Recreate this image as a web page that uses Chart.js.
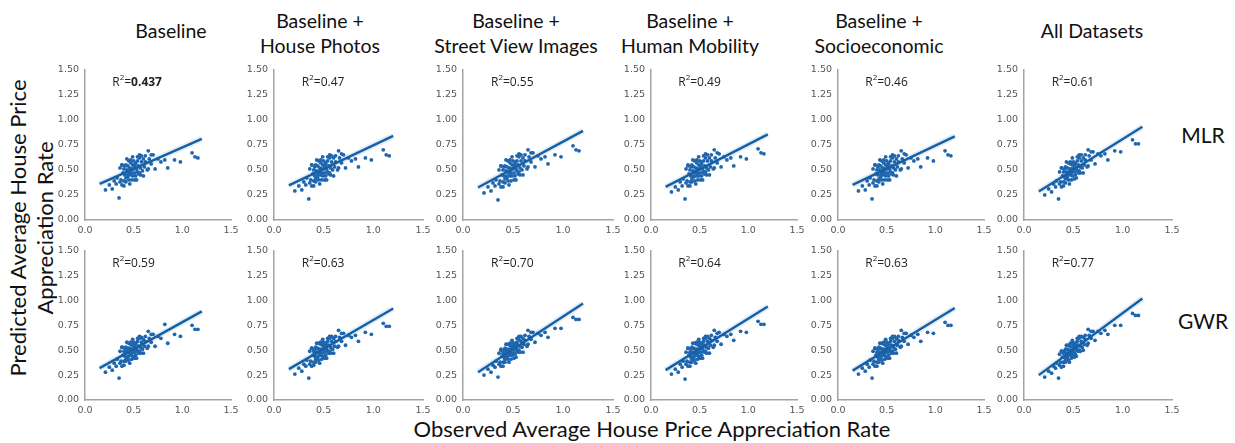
<!DOCTYPE html>
<html>
<head>
<meta charset="utf-8">
<script src="https://cdn.jsdelivr.net/npm/chart.js@4.4.1/dist/chart.umd.min.js"></script>
<style>
    body { margin: 0; width: 1235px; height: 443px; background: #fff; position: relative; overflow: hidden; font-family: Lato, "Noto Sans", sans-serif; }
    canvas.panel { position: absolute; }
    .txt { position: absolute; color: #111; white-space: nowrap; text-align: center; transform: translate(-50%, -50%); }
    .title { font-size: 19.5px; line-height: 25px; }
    .row { font-size: 21px; }
    .axis { font-size: 22px; line-height: 27px; }
</style>
</head>
<body>
<div class="txt title" style="left:171px; top:30px">Baseline</div>
<div class="txt title" style="left:320px; top:33px">Baseline +<br>House Photos</div>
<div class="txt title" style="left:516px; top:33px">Baseline +<br>Street View Images</div>
<div class="txt title" style="left:690px; top:33px">Baseline +<br>Human Mobility</div>
<div class="txt title" style="left:879px; top:33px">Baseline +<br>Socioeconomic</div>
<div class="txt title" style="left:1092px; top:30px">All Datasets</div>
<div class="txt row" style="left:1203px; top:134px">MLR</div>
<div class="txt row" style="left:1203px; top:320px">GWR</div>
<div class="txt axis" style="left:31px; top:228px; transform:translate(-50%,-50%) rotate(-90deg)">Predicted Average House Price<br>Appreciation Rate</div>
<div class="txt axis" style="left:652px; top:428px">Observed Average House Price Appreciation Rate</div>
<script>
// observed rate, shared by every panel (last 24 = dense core of the cloud)
const observed = [0.21,0.25,0.28,0.30,0.32,0.33,0.35,0.36,0.37,0.38,
    0.39,0.40,0.40,0.41,0.42,0.42,0.43,0.44,0.44,0.45,
    0.45,0.46,0.46,0.47,0.47,0.48,0.48,0.49,0.49,0.50,
    0.50,0.51,0.51,0.52,0.52,0.53,0.54,0.54,0.55,0.56,
    0.56,0.57,0.58,0.59,0.60,0.61,0.62,0.64,0.66,0.68,
    0.70,0.72,0.75,0.78,0.82,0.85,0.92,0.98,1.10,1.13,
    1.16,0.65,0.38,0.47,
    0.36,0.38,0.40,0.41,0.42,0.43,0.44,0.45,0.46,0.47,0.48,0.49,
    0.51,0.52,0.53,0.54,0.55,0.56,0.57,0.58,0.60,0.62,0.65,0.68];

// predicted rate, MLR row
const mlrBaseline = [0.30,0.35,0.31,0.39,0.36,0.42,0.22,0.52,0.40,0.55,
    0.47,0.39,0.51,0.45,0.55,0.42,0.50,0.45,0.54,0.48,
    0.40,0.52,0.47,0.60,0.45,0.51,0.47,0.55,0.44,0.51,
    0.59,0.47,0.54,0.44,0.56,0.51,0.59,0.48,0.54,0.47,
    0.62,0.52,0.58,0.49,0.61,0.53,0.58,0.50,0.61,0.56,
    0.65,0.51,0.61,0.58,0.60,0.52,0.60,0.58,0.67,0.63,
    0.62,0.69,0.35,0.50,
    0.38,0.55,0.34,0.54,0.38,0.61,0.43,0.59,0.36,0.57,0.40,0.63,
    0.40,0.57,0.40,0.63,0.46,0.65,0.45,0.64,0.44,0.64,0.51,0.65];
const mlrPhotos = [0.29,0.34,0.30,0.38,0.35,0.42,0.21,0.51,0.40,0.55,
    0.46,0.39,0.50,0.44,0.55,0.41,0.49,0.45,0.54,0.48,
    0.40,0.52,0.47,0.60,0.45,0.51,0.47,0.55,0.44,0.51,
    0.59,0.47,0.54,0.44,0.56,0.51,0.59,0.48,0.54,0.47,
    0.62,0.52,0.58,0.50,0.62,0.53,0.58,0.50,0.62,0.57,
    0.65,0.52,0.62,0.59,0.61,0.53,0.62,0.60,0.70,0.65,
    0.64,0.69,0.34,0.50,
    0.37,0.55,0.34,0.53,0.38,0.60,0.43,0.59,0.36,0.57,0.40,0.63,
    0.40,0.57,0.40,0.63,0.46,0.65,0.45,0.64,0.44,0.64,0.52,0.66];
const mlrStreet = [0.27,0.33,0.29,0.37,0.34,0.40,0.20,0.50,0.39,0.54,
    0.45,0.38,0.50,0.44,0.54,0.41,0.49,0.44,0.53,0.48,
    0.39,0.52,0.47,0.60,0.44,0.51,0.47,0.55,0.44,0.51,
    0.59,0.47,0.54,0.44,0.56,0.51,0.59,0.49,0.55,0.48,
    0.63,0.52,0.59,0.50,0.62,0.54,0.59,0.51,0.63,0.58,
    0.67,0.53,0.64,0.61,0.63,0.56,0.65,0.63,0.74,0.70,
    0.69,0.70,0.33,0.49,
    0.36,0.54,0.33,0.53,0.37,0.60,0.42,0.59,0.35,0.57,0.39,0.63,
    0.40,0.58,0.40,0.64,0.46,0.66,0.45,0.65,0.45,0.65,0.53,0.67];
const mlrMobility = [0.28,0.33,0.30,0.38,0.34,0.41,0.21,0.51,0.39,0.54,
    0.46,0.38,0.50,0.44,0.55,0.41,0.49,0.44,0.53,0.48,
    0.39,0.52,0.47,0.60,0.44,0.51,0.47,0.55,0.44,0.51,
    0.59,0.47,0.54,0.44,0.56,0.51,0.59,0.48,0.54,0.48,
    0.62,0.52,0.59,0.50,0.62,0.53,0.59,0.51,0.62,0.57,
    0.66,0.53,0.63,0.60,0.62,0.54,0.63,0.61,0.71,0.67,
    0.66,0.70,0.34,0.49,
    0.37,0.55,0.34,0.53,0.38,0.60,0.43,0.59,0.36,0.57,0.40,0.63,
    0.40,0.58,0.40,0.64,0.46,0.66,0.45,0.65,0.45,0.65,0.52,0.67];
const mlrSocio = [0.29,0.34,0.30,0.39,0.35,0.42,0.21,0.51,0.40,0.55,
    0.46,0.39,0.50,0.45,0.55,0.41,0.50,0.45,0.54,0.48,
    0.40,0.52,0.47,0.60,0.45,0.51,0.47,0.55,0.44,0.51,
    0.59,0.47,0.54,0.44,0.56,0.51,0.59,0.48,0.54,0.47,
    0.62,0.52,0.58,0.50,0.61,0.53,0.58,0.50,0.61,0.57,
    0.65,0.52,0.62,0.59,0.61,0.53,0.62,0.59,0.69,0.65,
    0.64,0.69,0.34,0.50,
    0.37,0.55,0.34,0.53,0.38,0.60,0.43,0.59,0.36,0.57,0.40,0.63,
    0.40,0.57,0.40,0.63,0.46,0.65,0.45,0.64,0.44,0.64,0.51,0.66];
const mlrAll = [0.25,0.31,0.28,0.36,0.33,0.39,0.21,0.48,0.38,0.52,
    0.44,0.38,0.48,0.43,0.53,0.41,0.48,0.44,0.52,0.47,
    0.40,0.51,0.47,0.58,0.45,0.51,0.47,0.55,0.44,0.51,
    0.58,0.48,0.54,0.45,0.56,0.52,0.59,0.49,0.55,0.49,
    0.62,0.53,0.59,0.52,0.62,0.55,0.60,0.53,0.64,0.60,
    0.68,0.56,0.66,0.64,0.66,0.60,0.69,0.68,0.80,0.76,
    0.76,0.70,0.33,0.49,
    0.36,0.52,0.34,0.51,0.37,0.58,0.42,0.57,0.36,0.56,0.40,0.62,
    0.41,0.57,0.42,0.63,0.47,0.65,0.47,0.65,0.47,0.65,0.54,0.68];

// predicted rate, GWR row
const gwrBaseline = [0.28,0.33,0.30,0.37,0.34,0.41,0.22,0.49,0.39,0.53,
    0.45,0.39,0.49,0.44,0.53,0.41,0.49,0.44,0.52,0.48,
    0.40,0.52,0.47,0.58,0.45,0.51,0.47,0.55,0.44,0.51,
    0.58,0.48,0.53,0.45,0.56,0.51,0.59,0.49,0.54,0.49,
    0.62,0.53,0.58,0.51,0.61,0.54,0.59,0.52,0.62,0.58,
    0.66,0.54,0.64,0.62,0.76,0.57,0.66,0.64,0.75,0.71,
    0.71,0.69,0.34,0.49,
    0.37,0.53,0.35,0.52,0.39,0.58,0.43,0.57,0.37,0.56,0.41,0.61,
    0.42,0.57,0.42,0.62,0.47,0.64,0.47,0.63,0.47,0.64,0.54,0.66];
const gwrPhotos = [0.26,0.32,0.29,0.36,0.34,0.40,0.22,0.49,0.39,0.52,
    0.45,0.38,0.49,0.44,0.53,0.41,0.48,0.44,0.52,0.48,
    0.40,0.51,0.47,0.58,0.45,0.51,0.47,0.55,0.44,0.51,
    0.58,0.48,0.53,0.45,0.56,0.51,0.59,0.49,0.55,0.49,
    0.62,0.53,0.59,0.51,0.62,0.54,0.59,0.53,0.63,0.59,
    0.67,0.55,0.65,0.63,0.65,0.59,0.68,0.66,0.77,0.74,
    0.74,0.70,0.34,0.49,
    0.36,0.52,0.35,0.51,0.38,0.57,0.43,0.57,0.37,0.56,0.41,0.61,
    0.42,0.57,0.42,0.62,0.47,0.64,0.47,0.64,0.47,0.64,0.54,0.67];
const gwrStreet = [0.25,0.31,0.28,0.35,0.33,0.39,0.23,0.47,0.38,0.50,
    0.44,0.38,0.47,0.43,0.52,0.41,0.48,0.44,0.51,0.47,
    0.41,0.51,0.47,0.57,0.45,0.51,0.47,0.54,0.45,0.51,
    0.57,0.48,0.53,0.46,0.55,0.52,0.58,0.50,0.55,0.50,
    0.61,0.54,0.59,0.53,0.62,0.56,0.60,0.54,0.64,0.61,
    0.68,0.58,0.67,0.65,0.68,0.63,0.72,0.72,0.83,0.81,
    0.81,0.70,0.34,0.49,
    0.36,0.51,0.34,0.50,0.38,0.56,0.43,0.56,0.38,0.55,0.41,0.60,
    0.42,0.57,0.43,0.62,0.48,0.64,0.48,0.64,0.48,0.65,0.56,0.68];
const gwrMobility = [0.26,0.31,0.28,0.36,0.33,0.39,0.21,0.48,0.39,0.52,
    0.45,0.38,0.48,0.43,0.53,0.41,0.48,0.44,0.52,0.47,
    0.40,0.51,0.47,0.58,0.45,0.51,0.47,0.55,0.44,0.51,
    0.58,0.48,0.53,0.45,0.56,0.52,0.59,0.49,0.55,0.49,
    0.62,0.53,0.59,0.52,0.62,0.55,0.60,0.53,0.63,0.59,
    0.68,0.56,0.66,0.64,0.66,0.60,0.69,0.68,0.79,0.76,
    0.76,0.70,0.34,0.49,
    0.36,0.52,0.34,0.51,0.38,0.57,0.43,0.57,0.37,0.56,0.41,0.61,
    0.42,0.57,0.42,0.62,0.48,0.64,0.47,0.64,0.47,0.65,0.55,0.67];
const gwrSocio = [0.26,0.32,0.29,0.36,0.33,0.40,0.22,0.49,0.39,0.52,
    0.45,0.38,0.48,0.43,0.53,0.41,0.48,0.44,0.52,0.48,
    0.40,0.51,0.47,0.58,0.45,0.51,0.47,0.55,0.44,0.51,
    0.58,0.48,0.53,0.45,0.56,0.51,0.59,0.49,0.55,0.49,
    0.62,0.53,0.59,0.51,0.62,0.55,0.60,0.53,0.63,0.59,
    0.67,0.56,0.65,0.63,0.66,0.59,0.68,0.67,0.78,0.75,
    0.75,0.70,0.34,0.49,
    0.36,0.52,0.34,0.51,0.38,0.57,0.43,0.57,0.37,0.56,0.41,0.61,
    0.42,0.57,0.42,0.62,0.47,0.64,0.47,0.64,0.47,0.64,0.54,0.67];
const gwrAll = [0.23,0.29,0.27,0.34,0.32,0.37,0.22,0.46,0.38,0.49,
    0.43,0.38,0.47,0.43,0.51,0.40,0.47,0.44,0.51,0.47,
    0.40,0.50,0.47,0.57,0.45,0.50,0.47,0.54,0.45,0.51,
    0.57,0.48,0.53,0.46,0.55,0.52,0.59,0.50,0.55,0.50,
    0.62,0.54,0.59,0.53,0.63,0.56,0.61,0.55,0.65,0.62,
    0.69,0.60,0.69,0.67,0.70,0.66,0.75,0.75,0.87,0.85,
    0.85,0.71,0.33,0.49,
    0.35,0.49,0.34,0.49,0.38,0.55,0.42,0.55,0.38,0.54,0.42,0.60,
    0.43,0.57,0.44,0.62,0.49,0.64,0.49,0.64,0.50,0.65,0.57,0.69];

// fitted line, predicted value at x = 0.15 and x = 1.2
const fitX = [0.15, 1.2];
const mlrFit = [[0.36, 0.81], [0.345, 0.84], [0.325, 0.89], [0.33, 0.855], [0.35, 0.835], [0.285, 0.93]];
const gwrFit = [[0.32, 0.89], [0.31, 0.92], [0.28, 0.97], [0.30, 0.94], [0.295, 0.925], [0.25, 1.02]];

const mlrR2 = ["0.437", "0.47", "0.55", "0.49", "0.46", "0.61"];
const gwrR2 = ["0.59", "0.63", "0.70", "0.64", "0.63", "0.77"];

const xTicks = [0, 0.5, 1.0, 1.5];
const yTicks = [0, 0.25, 0.5, 0.75, 1.0, 1.25, 1.5];

// layout of the grid (pixels)
const panelLeft = [85, 274, 463, 651, 838, 1024];
const panelWidth = [146, 149, 150, 146, 146, 148];
const rowTop = [68, 249];
const rowHeight = [152, 151];
const PAD_L = 45, PAD_T = 10, PAD_R = 15, PAD_B = 22;

const BLUE = "#1f66ae";
const LINE = "#1460a6";

const r2Plugin = {
    id: "r2",
    afterDatasetsDraw(chart, args, opts) {
        const ctx = chart.ctx;
        let px = chart.scales.x.getPixelForValue(0.28);
        let py = chart.scales.y.getPixelForValue(1.37);
        ctx.save();
        ctx.fillStyle = "#222";
        ctx.textBaseline = "middle";
        ctx.textAlign = "left";
        ctx.font = '12px "Open Sans"';
        ctx.fillText("R", px, py);
        px += ctx.measureText("R").width;
        ctx.font = '8px "Open Sans"';
        ctx.fillText("2", px, py - 5);
        px += ctx.measureText("2").width;
        ctx.font = '12px "Open Sans"';
        ctx.fillText("=", px, py);
        px += ctx.measureText("=").width;
        ctx.font = (opts.bold ? "bold " : "") + '12px "Open Sans"';
        ctx.fillText(opts.value, px, py);
        ctx.restore();
    }
};
Chart.register(r2Plugin);

function makePanel(row, col, preds, fit, r2) {
    let cv = document.createElement("canvas");
    cv.className = "panel";
    let w = panelWidth[col] + PAD_L + PAD_R;
    let h = rowHeight[row] + PAD_T + PAD_B;
    cv.width = w;
    cv.height = h;
    cv.style.left = (panelLeft[col] - PAD_L) + "px";
    cv.style.top = (rowTop[row] - PAD_T) + "px";
    document.body.appendChild(cv);

    let points = observed.map((x, i) => ({ x: x, y: preds[i] }));
    let line = fitX.map((x, i) => ({ x: x, y: fit[i] }));

    new Chart(cv, {
        type: "scatter",
        data: {
            datasets: [
                { type: "line", data: line, borderColor: LINE, borderWidth: 2.4, pointRadius: 0, order: 0 },
                { type: "line", data: line, borderColor: "rgba(31,102,174,0.12)", borderWidth: 6, pointRadius: 0, order: 1 },
                { data: points, backgroundColor: BLUE, borderWidth: 0, pointRadius: 1.9, order: 2 }
            ]
        },
        options: {
            responsive: false,
            animation: false,
            events: [],
            layout: { padding: { left: 0, top: PAD_T, right: PAD_R, bottom: 0 } },
            plugins: {
                legend: { display: false },
                tooltip: { enabled: false },
                r2: { value: r2, bold: row == 0 && col == 0 }
            },
            scales: {
                x: {
                    type: "linear",
                    min: 0,
                    max: 1.5,
                    afterBuildTicks: (s) => { s.ticks = xTicks.map(v => ({ value: v })); },
                    afterFit: (s) => { s.height = PAD_B; },
                    grid: { display: false, drawTicks: false },
                    border: { display: true, color: "#a3a3a3", width: 1.5 },
                    ticks: {
                        padding: 5,
                        color: "#555",
                        maxRotation: 0,
                        autoSkip: false,
                        font: { family: "DejaVu Sans", size: 9.5 },
                        callback: (v) => v.toFixed(1)
                    }
                },
                y: {
                    type: "linear",
                    min: 0,
                    max: 1.5,
                    afterBuildTicks: (s) => { s.ticks = yTicks.map(v => ({ value: v })); },
                    afterFit: (s) => { s.width = PAD_L; },
                    grid: { display: false, drawTicks: false },
                    border: { display: true, color: "#a3a3a3", width: 1.5 },
                    ticks: {
                        padding: 6,
                        color: "#555",
                        autoSkip: false,
                        font: { family: "DejaVu Sans", size: 9.5 },
                        callback: (v) => v.toFixed(2)
                    }
                }
            }
        }
    });
}

let mlrPreds = [mlrBaseline, mlrPhotos, mlrStreet, mlrMobility, mlrSocio, mlrAll];
let gwrPreds = [gwrBaseline, gwrPhotos, gwrStreet, gwrMobility, gwrSocio, gwrAll];

for (let c = 0; c < 6; c++) {
    makePanel(0, c, mlrPreds[c], mlrFit[c], mlrR2[c]);
    makePanel(1, c, gwrPreds[c], gwrFit[c], gwrR2[c]);
}
</script>
</body>
</html>
